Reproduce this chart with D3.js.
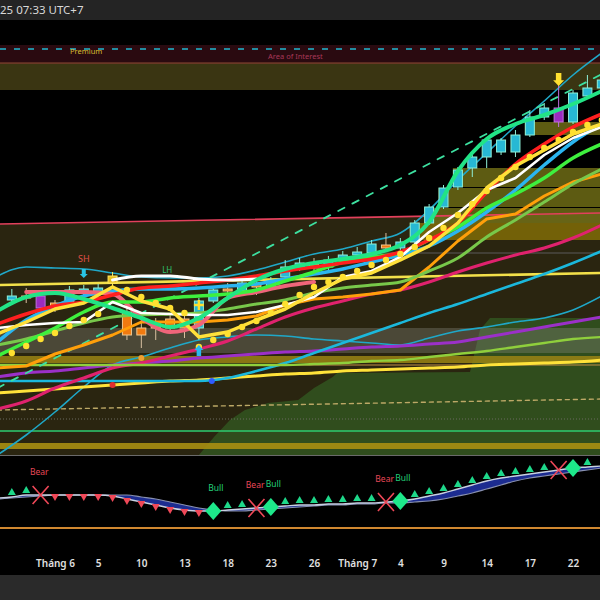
<!DOCTYPE html>
<html><head><meta charset="utf-8">
<script src="https://cdn.jsdelivr.net/npm/d3@7"></script>
<style>html,body{margin:0;background:#000;}svg{display:block;font-family:"Noto Sans",sans-serif}</style>
</head><body><svg id="c" width="600" height="600"></svg>
<script>
// ---------- DATA ----------
const headerText = "25 07:33 UTC+7";
const tickIdx = [0,3,6,9,12,15,18,21,24,27,30,33,36];
const tickLabels = ["Tháng 6","5","10","13","18","23","26","Tháng 7","4","9","14","17","22"];

const candleIdx = d3.range(-3, 39);
const candleOpen  = [155,159,159,152,153,163,163,172,143,127,133,136,136,127,154,166,164,171,168,178,187,191,188,195,200,202,210,207,213,232,248,268,287,298,303,303,320,338,347,333,359,367];
const candleClose = [159,157,147,147,165,166,167,179,120,120,127,127,127,154,165,164,172,168,174,188,192,187,195,200,203,211,207,213,232,248,267,285,298,315,315,320,338,347,333,362,367,375];
const candleHigh  = [166,167,163,155,169,170,171,183,150,137,137,140,140,157,168,172,176,173,178,195,197,197,199,204,208,215,222,217,235,251,270,288,300,318,317,325,345,352,370,365,380,385];
const candleLow   = [152,152,144,143,150,160,159,169,115,107,115,122,117,115,152,157,162,160,166,176,184,183,185,192,195,199,203,203,211,230,246,265,278,287,300,298,318,335,328,331,357,363];
const candleKind  = "topotttyooooottotottto" + "tttto" + "ttttttttttt" + "p" + "ttt";

const sarValues = [102,109,116,122,129,135,141,null,165,158,152,147,142,108,115,121,128,134,142,151,160,168,173,178,184,190,195,201,208,217,227,240,251,264,277,288,298,307,315,323,330,335];

const lineIdx = d3.range(-4, 39, 2);
const cyanUpper  = [179,188,187,186,182,178,177,177,179,185,193,201,206,214,222,245,275,302,329,354,380,402];
const cyanLower  = [0,20,43,68,90,98,107,115,118,120,119,116,114,112,110,117,124,128,133,137,145,159];
const cyanMid    = [74,74,74,74,74,74,74,74,77,84,92,102,112,122,132,142,151,161,171,181,192,204];
const yellowLong = [62,64,66,68,70,72,74,75,77,79,81,82,84,85,86,87,88,90,91,92,93,95];
const pinkLine   = [46,54,67,77,87,92,99,106,114,126,138,147,154,161,165,173,183,192,200,207,217,230];
const purpleLine = [78,82,84,87,90,92,94,97,99,101,103,104,106,108,109,111,113,118,123,128,133,138];
const lightGreen = [90,90,90,90,90,90,90,90,90,90,90,91,92,94,95,98,101,104,108,112,116,118];
const orangeLine = [87,89,101,110,120,133,133,133,135,139,150,156,158,161,165,188,214,236,241,259,273,281];
const mintLine   = [144,158,162,156,147,137,128,137,157,175,186,192,196,201,210,233,284,316,331,340,351,364];
const limeLine   = [99,113,127,143,153,153,157,159,161,165,174,183,193,198,202,215,228,247,261,277,297,311];
const sageLine   = [110,116,124,132,138,140,141,142,146,151,155,162,167,170,173,184,197,218,235,253,271,286];
const redLine    = [131,141,149,153,160,167,169,172,175,179,184,188,192,196,203,215,232,263,291,311,328,341];
const yellowFast = [121,133,146,152,168,154,146,118,123,135,146,162,176,182,195,209,232,267,289,305,321,331];
const whiteStep  = [127,130,132,133,153,142,141,140,140,143,150,158,178,184,198,223,242,265,277,300,317,328];
const whiteSmooth= [null,null,null,null,175,179,179,176,175,176,null,null,null,null,null,null,null,null,null,null,null,null];
const lightBlue  = [113,135,149,159,164,166,166,167,169,171,176,181,186,193,200,209,224,243,265,290,313,331];
const salmonLine = [null,163,163,163,161,137,123,130,157,163,169,173,null,null,null,null,null,null,null,null,null,null];

const trendIdx = [-4, 38];
const redTrend   = [231, 242];
const greenDash  = [67, 381];
const yellowFlat = [170, 182];
const tanDash    = [45, 56];

const premiumLevel = 406, dottedLevel = 36, greenLevel = 24, grayLevel = 202;
const maroonZone = [393, 410], oliveZone = [365, 392];
const grayZone = [102, 127], goldZone1 = [92, 99], goldZone2 = [6, 12];
const blockStart = [25, 26, 27, 28, 33];
const blockLo    = [215, 232, 248, 268, 320];
const blockHi    = [232, 247, 267, 287, 333];
const cloudIdx = [10.0,11.05,12.16,13.2,14.8,16.9,18.0,19.3,19.6,28.84,29.53,30.23,37.9];
const cloudTop = [0,18,35,45,52,55,67,78,82,83,125,137,137];

// lower panel
const oscIdx = d3.range(-4, 39);
const oscFast = [32,33,35,35,35,35,35,35,34,31,28,25,22,20,19,19,20,21,22,23,24,25,25,26,26,27,27,28,29,31,34,37,41,45,49,52,54,56,58,60,62,63,64];
const oscSlow = [31,32,33,34,35,35,35,35,35,35,33,31,28,25,22,20,19,19,20,21,22,23,24,25,25,26,26,27,27,28,29,31,34,37,41,45,49,52,54,56,58,60,62];
const signalIdx = d3.range(-3, 38);
const signalKind = "uux" + "ddddddddddd" + "b" + "uu" + "x" + "b" + "uuuuuuu" + "x" + "b" + "uuuuuuuuuu" + "x" + "b" + "u";
const signalLabelIdx = [-1, 11, 14, 15, 23, 24];
const signalLabelText = ["Bear","Bull","Bear","Bull","Bear","Bull"];
const oscLevel = 2;

// ---------- DRAW ----------
const svg = d3.select("#c");
const x = d3.scaleLinear().domain([-3.822, 37.875]).range([0, 600]);
const y = d3.scaleLinear().domain([0, 435]).range([455, 20]);
const ly = d3.scaleLinear().domain([0, 75]).range([530, 455]);

svg.append("rect").attr("width",600).attr("height",600).attr("fill","#000");
svg.append("rect").attr("width",600).attr("height",20).attr("fill","#242424");
svg.append("text").attr("x",0).attr("y",14).attr("fill","#d8d8d8").attr("font-size",11.5).text(headerText);

const defs = svg.append("defs");
defs.append("clipPath").attr("id","cm").append("rect").attr("x",0).attr("y",20).attr("width",600).attr("height",435);
const g = svg.append("g").attr("clip-path","url(#cm)");

const pts = (idx, vals) => idx.map((d,i)=>[d, vals[i]]);
const band = (lo, hi, fill, op) => g.append("rect").attr("x",0).attr("width",600)
  .attr("y", y(hi)).attr("height", y(lo)-y(hi)).attr("fill", fill).attr("opacity", op);

g.append("path").datum(pts(trendIdx, redTrend))
  .attr("d", d3.area().x(d=>x(d[0])).y0(y(0)).y1(d=>y(d[1])))
  .attr("fill", "#2a2510");
g.append("path").datum(pts(cloudIdx, cloudTop))
  .attr("d", d3.area().x(d=>x(d[0])).y0(y(0)).y1(d=>y(d[1])))
  .attr("fill", "#304d1d");

band(grayZone[0], grayZone[1], "#8a8a80", 0.35);
band(goldZone1[0], goldZone1[1], "#9a8414", 0.85);
band(goldZone2[0], goldZone2[1], "#a88f12", 0.9);
band(oliveZone[0], oliveZone[1], "#3a3512", 1);
band(maroonZone[0], maroonZone[1], "#2a0a10", 1);
g.append("line").attr("x1",0).attr("x2",600).attr("y1",y(oliveZone[1])).attr("y2",y(oliveZone[1]))
  .attr("stroke","#7a3a2c").attr("stroke-width",1.5);

blockStart.forEach((s,i)=>{
  g.append("rect").attr("x", x(s-0.35)).attr("width", 600 - x(s-0.35))
   .attr("y", y(blockHi[i])).attr("height", y(blockLo[i]) - y(blockHi[i]))
   .attr("fill", i===0 ? "#8c7605" : "#7c7a18").attr("opacity", 0.75);
});

const hline = (v, col, w, dash, x0) => g.append("line").attr("x1", x0||0).attr("x2",600)
  .attr("y1", y(v)).attr("y2", y(v)).attr("stroke", col).attr("stroke-width", w).attr("stroke-dasharray", dash||null);
hline(premiumLevel, "#22b8d0", 1.6, "6,8");
hline(dottedLevel, "#6a6a60", 1, "1,2");
hline(greenLevel, "#2ecc71", 1.6);
hline(grayLevel, "#5a5a5a", 1.2, null, x(22));
hline(90, "#c09048", 1);

g.append("text").attr("x",70).attr("y",54).attr("fill","#d8bc30").attr("font-size",7.5).text("Premium");
g.append("text").attr("x",268).attr("y",59).attr("fill","#a83858").attr("font-size",7.5).text("Area of Interest");

const lineGen = (curve) => d3.line().defined(d=>d[1]!=null).x(d=>x(d[0])).y(d=>y(d[1])).curve(curve);
const draw = (idx, vals, col, w, curve, dash) => g.append("path").datum(pts(idx, vals))
  .attr("d", lineGen(curve||d3.curveMonotoneX)).attr("fill","none").attr("stroke", col)
  .attr("stroke-width", w).attr("stroke-linejoin","round").attr("stroke-linecap","round")
  .attr("stroke-dasharray", dash||null);

draw(trendIdx, redTrend, "#e2405c", 1.6, d3.curveLinear);
draw(trendIdx, tanDash, "#bca866", 1.4, d3.curveLinear, "4,4");
draw(trendIdx, yellowFlat, "#f2e04a", 2.6, d3.curveLinear);

draw(lineIdx, cyanLower, "#1fa8c8", 1.6);
draw(lineIdx, yellowLong, "#ffe23a", 3);
draw(lineIdx, purpleLine, "#9b30c8", 3);
draw(lineIdx, cyanMid, "#1bb8dc", 2.6);
draw(lineIdx, pinkLine, "#e0226e", 3);
draw(lineIdx, lightGreen, "#8fcf3c", 2.4);
draw(lineIdx, cyanUpper, "#20a8c8", 1.6);
draw(trendIdx, greenDash, "#3de0a0", 1.8, d3.curveLinear, "7,9");

const cw = 9;
const kindFill = {t:"#27b8d4", o:"#f07a10", p:"#9b2cc0", y:"#e8c020"};
const kindStroke = {t:"#8ff0d8", o:"#f0c890", p:"#c070e0", y:"#ffe860"};
candleIdx.forEach((d,i)=>{
  const k = candleKind[i];
  const cx = x(d);
  g.append("line").attr("x1",cx).attr("x2",cx).attr("y1",y(candleHigh[i])).attr("y2",y(candleLow[i]))
    .attr("stroke", k==="o" ? "#d8c0a0" : kindStroke[k]).attr("stroke-width",1);
  const top = y(Math.max(candleOpen[i], candleClose[i]));
  const bot = y(Math.min(candleOpen[i], candleClose[i]));
  g.append("rect").attr("x", cx-cw/2).attr("width", cw).attr("y", top).attr("height", Math.max(1.5, bot-top))
    .attr("fill", kindFill[k]).attr("stroke", kindStroke[k]).attr("stroke-width", 1);
});

draw(lineIdx, orangeLine, "#ff9f0a", 3, d3.curveLinear);
draw(lineIdx, sageLine, "#78c84a", 3);
draw(lineIdx, lightBlue, "#2bb5f0", 3.5);
draw(lineIdx, salmonLine, "#f0657a", 4);
draw(lineIdx, limeLine, "#3ef03e", 3.5);
draw(lineIdx, redLine, "#ff1f1f", 3.5);
draw(lineIdx, whiteSmooth, "#ffffff", 3);
draw(lineIdx, whiteStep, "#ffffff", 2.6, d3.curveLinear);
draw(lineIdx, yellowFast, "#ffe03a", 3.5, d3.curveLinear);
draw(lineIdx, mintLine, "#22e486", 4);

candleIdx.forEach((d,i)=>{
  if (sarValues[i]==null) return;
  g.append("circle").attr("cx", x(d)).attr("cy", y(sarValues[i])).attr("r", 3.2).attr("fill", "#ffe030");
});

g.append("circle").attr("cx", x(10.9)).attr("cy", y(74)).attr("r", 3).attr("fill", "#2f5cff");
g.append("circle").attr("cx", x(4.0)).attr("cy", y(70)).attr("r", 3).attr("fill", "#e03030");
g.append("circle").attr("cx", x(6)).attr("cy", y(97)).attr("r", 3).attr("fill", "#f0a030");

g.append("text").attr("x", x(2)).attr("y", y(193)).attr("text-anchor","middle").attr("fill","#e0504a").attr("font-size",9).text("SH");
g.append("text").attr("x", x(7.8)).attr("y", y(182)).attr("text-anchor","middle").attr("fill","#30c070").attr("font-size",8).text("LH");
const arrowDown = (i, vTip, col, w, h) => {
  const cx = x(i), ty = y(vTip);
  g.append("path").attr("d", `M${cx-w/4},${ty-h} L${cx+w/4},${ty-h} L${cx+w/4},${ty-h*0.45} L${cx+w/2},${ty-h*0.45} L${cx},${ty} L${cx-w/2},${ty-h*0.45} L${cx-w/4},${ty-h*0.45} Z`).attr("fill", col);
};
const arrowUp = (i, vTip, col, w, h) => {
  const cx = x(i), ty = y(vTip);
  g.append("path").attr("d", `M${cx-w/4},${ty+h} L${cx+w/4},${ty+h} L${cx+w/4},${ty+h*0.45} L${cx+w/2},${ty+h*0.45} L${cx},${ty} L${cx-w/2},${ty+h*0.45} L${cx-w/4},${ty+h*0.45} Z`).attr("fill", col);
};
arrowDown(2, 177, "#29c5e6", 8, 9);
arrowUp(10, 110, "#29b8f0", 9, 11);
arrowDown(35, 369, "#ffe030", 11, 13);
g.append("path").attr("d", `M${x(10)-5},${y(150)} H${x(10)+5} M${x(10)},${y(150)-5} V${y(150)+5}`)
  .attr("stroke","#ffe030").attr("stroke-width",2.5);

svg.append("line").attr("x1",0).attr("x2",600).attr("y1",455.5).attr("y2",455.5).attr("stroke","#6a6a6a").attr("stroke-width",1);

// ---------- lower panel ----------
const lo = svg.append("g");
lo.append("line").attr("x1",0).attr("x2",600).attr("y1",ly(oscLevel)).attr("y2",ly(oscLevel)).attr("stroke","#d08830").attr("stroke-width",2);
lo.append("path").datum(oscIdx.map((d,i)=>[d, oscFast[i], oscSlow[i]]))
  .attr("d", d3.area().x(d=>x(d[0])).y0(d=>ly(d[2])).y1(d=>ly(d[1])).curve(d3.curveMonotoneX))
  .attr("fill","#1c2c90");
lo.append("path").datum(pts(oscIdx, oscSlow)).attr("d", d3.line().x(d=>x(d[0])).y(d=>ly(d[1])).curve(d3.curveMonotoneX))
  .attr("fill","none").attr("stroke","#8890b0").attr("stroke-width",1.2);
lo.append("path").datum(pts(oscIdx, oscFast)).attr("d", d3.line().x(d=>x(d[0])).y(d=>ly(d[1])).curve(d3.curveMonotoneX))
  .attr("fill","none").attr("stroke","#c8d0e0").attr("stroke-width",1.4);

const fastAt = i => oscFast[oscIdx.indexOf(i)];
signalIdx.forEach((d,i)=>{
  const k = signalKind[i], cx = x(d), cy = ly(fastAt(d));
  if (k==="u") lo.append("path").attr("d", `M${cx},${cy-9} L${cx+4},${cy-2} L${cx-4},${cy-2} Z`).attr("fill","#1ed88a");
  else if (k==="d") lo.append("path").attr("d", `M${cx-4},${cy-1} L${cx+4},${cy-1} L${cx},${cy+6} Z`).attr("fill","#f04858");
  else if (k==="x") lo.append("path").attr("d", `M${cx-8},${cy-9} L${cx+8},${cy+9} M${cx+8},${cy-9} L${cx-8},${cy+9}`).attr("stroke","#f04858").attr("stroke-width",1.6);
  else if (k==="b") lo.append("path").attr("d", `M${cx},${cy-9} L${cx+8},${cy} L${cx},${cy+9} L${cx-8},${cy} Z`).attr("fill","#1de88a");
});
signalLabelIdx.forEach((d,i)=>{
  const t = signalLabelText[i];
  const bear = t==="Bear";
  lo.append("text").attr("x", bear ? x(d)+8 : x(d)-5).attr("y", ly(fastAt(d)) - 20)
    .attr("text-anchor", bear ? "end" : "start")
    .attr("fill", bear ? "#e84858" : "#22d07a").attr("font-size",8.5).text(t);
});

// ---------- axis ----------
svg.append("rect").attr("x",0).attr("y",575).attr("width",600).attr("height",25).attr("fill","#2a2a2a");
const xAxis = d3.axisBottom(x).tickValues(tickIdx).tickFormat((d,i)=>tickLabels[i]).tickSize(0).tickPadding(0);
const ax = svg.append("g").attr("transform","translate(0,560)").call(xAxis);
ax.select(".domain").remove();
ax.selectAll("text").attr("fill","#e0e0e0").attr("font-size",10).attr("font-weight",600).attr("font-family","Noto Sans, sans-serif");
</script></body></html>
